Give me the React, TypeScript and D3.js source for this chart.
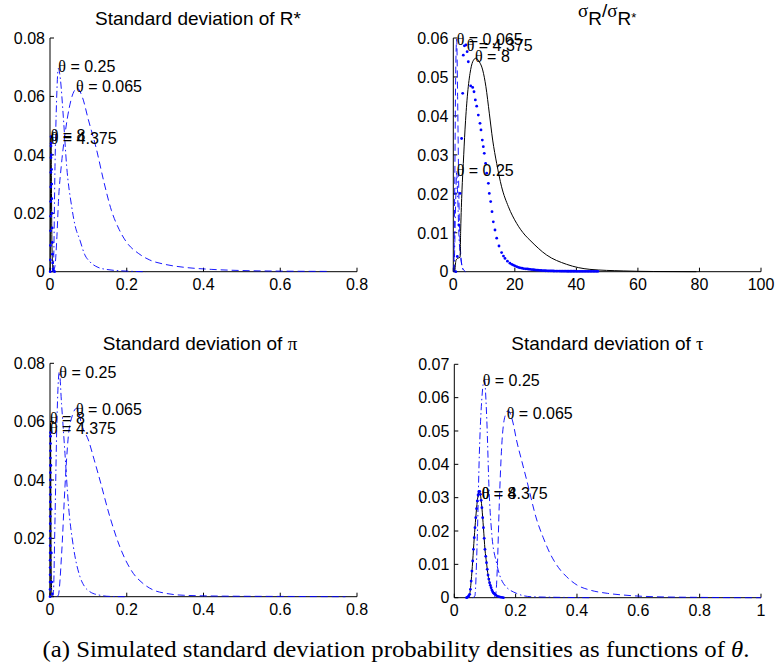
import React from 'react';
import * as d3 from 'd3';

type Pt = [number, number];

// ---------- Panel 1: Standard deviation of R* ----------
const rStar065: Pt[] = [[0.008,0],[0.013,0.002],[0.018,0.012],[0.022,0.024],[0.03,0.037],[0.04,0.048],[0.05,0.056],[0.06,0.061],[0.071,0.0628],[0.085,0.0595],[0.1,0.052],[0.12,0.0425],[0.14,0.031],[0.16,0.021],[0.18,0.0145],[0.2,0.01],[0.23,0.0063],[0.26,0.004],[0.3,0.0025],[0.35,0.0015],[0.42,0.0008],[0.5,0.0004],[0.6,0.0002],[0.73,0.0001]];
const rStar025: Pt[] = [[0.005,0],[0.009,0.002],[0.013,0.036],[0.017,0.058],[0.0217,0.0696],[0.027,0.066],[0.0347,0.053],[0.0435,0.036],[0.0565,0.0223],[0.065,0.016],[0.078,0.0108],[0.09,0.006],[0.104,0.0034],[0.125,0.0015],[0.146,0.0008],[0.2,0.0002],[0.25,0]];
const rStar4375: Pt[] = [[0.0005,0],[0.001,0.004],[0.0012,0.009],[0.0014,0.014],[0.0016,0.019],[0.0018,0.024],[0.002,0.029],[0.0022,0.034],[0.0024,0.039],[0.0026,0.043],[0.0028,0.0462],[0.0032,0.044],[0.0036,0.04],[0.004,0.035],[0.0044,0.03],[0.0048,0.025],[0.0052,0.02],[0.0056,0.015],[0.006,0.01],[0.0065,0.006],[0.007,0.003],[0.008,0.001],[0.01,0.0003],[0.012,0]];
const rStar8: Pt[] = [[0.0005,0],[0.0012,0.02],[0.0018,0.04],[0.0025,0.0465],[0.0032,0.04],[0.004,0.025],[0.005,0.01],[0.007,0.002],[0.01,0]];
const rStarLabels: Pt[] = [[0.0678,0.0636],[0.0216,0.0702],[0.0018,0.0458],[0.0018,0.0466]];

// ---------- Panel 2: sigma_R / sigma_R* ----------
const ratio065: Pt[] = [[0.2,0],[0.5,0.025],[0.8,0.052],[1.1,0.0597],[1.4,0.045],[1.8,0.02],[2.3,0.006],[3,0.001],[4,0]];
const ratio025: Pt[] = [[0.3,0],[0.6,0.012],[0.9,0.022],[1.1,0.0259],[1.4,0.02],[1.8,0.01],[2.5,0.003],[3.5,0]];
const ratio4375: Pt[] = [[0.8,0],[1.3,0.0039],[1.8,0.012],[2.2,0.0201],[2.7,0.0342],[3.05,0.0458],[3.25,0.0556],[3.6,0.058],[4.1,0.0582],[4.5,0.0565],[4.88,0.0539],[5.65,0.0477],[6.3,0.0473],[6.73,0.0462],[7.16,0.0441],[7.6,0.0425],[8.13,0.0402],[8.68,0.0381],[9.0,0.0364],[9.43,0.0338],[9.75,0.0321],[10.07,0.0304],[10.5,0.0278],[10.85,0.0253],[11.4,0.0227],[11.7,0.0201],[12.15,0.018],[12.58,0.0154],[13.0,0.0128],[13.55,0.0107],[14.1,0.0086],[14.85,0.0066],[15.7,0.0049],[16.3,0.004],[16.8,0.0034],[17.6,0.0027],[18.4,0.0022],[19.0,0.0019],[19.5,0.0017],[20.0,0.0015],[20.6,0.0013],[21.2,0.0011],[21.7,0.001],[22.3,0.0009],[22.8,0.0008],[23.4,0.00075],[24,0.0007],[24.5,0.00065],[25,0.0006],[25.5,0.00055],[26,0.0005],[26.5,0.00045],[27,0.0004],[27.5,0.0004],[28,0.00035],[28.5,0.00033],[29,0.0003],[29.5,0.00028],[30,0.00025],[30.5,0.00023],[31,0.0002],[31.5,0.0002],[32,0.0002],[32.5,0.00018],[33,0.00017],[33.5,0.00016],[34,0.00015],[34.5,0.00015],[35,0.00014],[35.5,0.00014],[36,0.00013],[36.5,0.00013],[37,0.00012],[37.5,0.00012],[38,0.00012],[38.5,0.00011],[39,0.00011],[39.5,0.00011],[40,0.0001],[40.5,0.0001],[41,0.0001],[41.5,0.0001],[42,0.0001],[42.5,0.0001],[43,0.0001],[43.5,0.0001],[44,0.0001],[44.5,0.0001],[45,0.0001],[45.5,0.0001],[46,0.0001],[46.5,0.0001],[47,0.0001]];
const ratio8: Pt[] = [[0.5,0],[0.9,0.003],[1.6,0.0035],[2.2,0.0037],[2.4,0.0107],[2.83,0.021],[3.25,0.0278],[3.8,0.0364],[4.55,0.0449],[5.43,0.0509],[6.3,0.0539],[7.28,0.0548],[8.45,0.0539],[9.55,0.0518],[10.6,0.0475],[11.7,0.0407],[12.8,0.0338],[14.1,0.0278],[15.7,0.0218],[17.9,0.0167],[20.6,0.0124],[23.3,0.0094],[24.9,0.0081],[30.3,0.0043],[36.8,0.0019],[44.4,0.0006],[55.2,0.0002],[65,0.00005],[79,0]];
const ratioLabels: Pt[] = [[1.1,0.0596],[1.1,0.0261],[4.35,0.0582],[7.05,0.0553]];

// ---------- Panel 3: Standard deviation of pi ----------
const pi065: Pt[] = [[0.018,0],[0.0217,0.0005],[0.0304,0.0149],[0.039,0.0377],[0.0477,0.0549],[0.058,0.062],[0.0696,0.0646],[0.085,0.058],[0.1,0.0537],[0.115,0.047],[0.13,0.04],[0.156,0.0274],[0.182,0.0171],[0.217,0.008],[0.24,0.0048],[0.269,0.0023],[0.3,0.0012],[0.347,0.0005],[0.45,0.0002],[0.6,0.0001],[0.77,0]];
const pi025: Pt[] = [[0.006,0],[0.0087,0.001],[0.013,0.0263],[0.018,0.06],[0.0243,0.0771],[0.03,0.0663],[0.039,0.0491],[0.0477,0.032],[0.061,0.0171],[0.078,0.0069],[0.09,0.0035],[0.104,0.0017],[0.13,0.0005],[0.156,0.0001],[0.2,0]];
const pi4375: Pt[] = [[0.0002,0],[0.00025,0.0025],[0.0003,0.005],[0.00035,0.0075],[0.0004,0.01],[0.00045,0.0125],[0.0005,0.015],[0.00055,0.0175],[0.0006,0.02],[0.00065,0.0225],[0.0007,0.025],[0.00075,0.0275],[0.0008,0.03],[0.00085,0.0325],[0.0009,0.035],[0.00095,0.0375],[0.001,0.04],[0.00105,0.0425],[0.0011,0.045],[0.00115,0.0475],[0.0012,0.05],[0.00125,0.0525],[0.0013,0.055],[0.0014,0.0562],[0.0022,0.045],[0.0028,0.03],[0.0035,0.015],[0.0045,0.005],[0.006,0.001]];
const pi8: Pt[] = [[0.0003,0],[0.0008,0.03],[0.0013,0.0596],[0.002,0.04],[0.003,0.01],[0.005,0]];
const piLabels: Pt[] = [[0.0677,0.0642],[0.0242,0.0771],[0.0,0.0577],[0.0,0.0611]];

// ---------- Panel 4: Standard deviation of tau ----------
const tau065: Pt[] = [[0.128,0],[0.135,0.001],[0.14,0.0083],[0.1467,0.0283],[0.1545,0.0453],[0.165,0.0543],[0.176,0.0561],[0.19,0.053],[0.2035,0.047],[0.22,0.041],[0.236,0.0353],[0.269,0.0233],[0.29,0.018],[0.312,0.0133],[0.34,0.009],[0.366,0.0063],[0.4,0.0038],[0.442,0.0023],[0.5,0.0013],[0.551,0.0008],[0.65,0.0003],[0.8,0.0001],[1.0,0]];
const tau025: Pt[] = [[0.06,0],[0.067,0.0005],[0.075,0.0183],[0.0816,0.043],[0.09,0.06],[0.098,0.0653],[0.106,0.0533],[0.113,0.0333],[0.122,0.0193],[0.138,0.0103],[0.16,0.0043],[0.203,0.0013],[0.25,0.0003],[0.35,0.0001],[0.45,0]];
const tau4375: Pt[] = [[0.04,0],[0.0425,0.0001],[0.045,0.0003],[0.0475,0.0006],[0.05,0.001],[0.0525,0.0025],[0.055,0.005],[0.0575,0.008],[0.06,0.011],[0.0625,0.0145],[0.065,0.018],[0.0675,0.021],[0.07,0.024],[0.0725,0.0267],[0.075,0.029],[0.0775,0.0308],[0.08,0.0318],[0.0825,0.0319],[0.085,0.031],[0.0875,0.0292],[0.09,0.027],[0.0925,0.024],[0.095,0.021],[0.0975,0.0178],[0.1,0.0145],[0.1025,0.0124],[0.105,0.0105],[0.1075,0.0085],[0.11,0.0068],[0.1125,0.0056],[0.115,0.0045],[0.1175,0.0037],[0.12,0.003],[0.1225,0.0023],[0.125,0.0018],[0.1275,0.0014],[0.13,0.0013],[0.1325,0.001],[0.135,0.0008],[0.14,0.0005],[0.145,0.0003],[0.15,0.0002],[0.155,0.0001],[0.16,0]];
const tau8: Pt[] = [[0.04,0],[0.045,0.0003],[0.05,0.001],[0.055,0.005],[0.06,0.011],[0.065,0.018],[0.07,0.024],[0.075,0.029],[0.08,0.0318],[0.0825,0.0319],[0.085,0.031],[0.09,0.027],[0.095,0.021],[0.1,0.0145],[0.105,0.0105],[0.11,0.0068],[0.115,0.0045],[0.12,0.003],[0.13,0.0013],[0.14,0.0005],[0.15,0.0002],[0.16,0]];
const tauLabels: Pt[] = [[0.171,0.0553],[0.0926,0.0651],[0.0893,0.0312],[0.0893,0.0314]];

// ---------- shared ----------
const thetaValues = ['0.065', '0.25', '4.375', '8'];
const styles = ['dash', 'dashdot', 'dot', 'solid'];
const xTicksSmall = [0, 0.2, 0.4, 0.6, 0.8];
const xTicksRatio = [0, 20, 40, 60, 80, 100];
const xTicksTau = [0, 0.2, 0.4, 0.6, 0.8, 1];
const yTicks08 = [0, 0.02, 0.04, 0.06, 0.08];
const yTicks06 = [0, 0.01, 0.02, 0.03, 0.04, 0.05, 0.06];
const yTicks07 = [0, 0.01, 0.02, 0.03, 0.04, 0.05, 0.06, 0.07];

const SANS = '"Liberation Sans", Arial, Helvetica, sans-serif';
const SERIF = '"Liberation Serif", "Times New Roman", serif';
const BLUE = '#0000ff';

type Box = { l: number; r: number; t: number; b: number };

function Panel(props: {
  box: Box; xDomain: number[]; yDomain: number[]; xTicks: number[]; yTicks: number[];
  series: Pt[][]; labels: Pt[]; title: React.ReactNode;
}) {
  const { box, xDomain, yDomain, xTicks, yTicks, series, labels, title } = props;
  const x = d3.scaleLinear().domain(xDomain).range([box.l, box.r]);
  const y = d3.scaleLinear().domain(yDomain).range([box.b, box.t]);
  const line = d3.line<Pt>().x(d => x(d[0])).y(d => y(d[1])).curve(d3.curveMonotoneX);
  const tk = 4;
  return (
    <g>
      {title}
      {/* axes */}
      <line x1={box.l} x2={box.r} y1={box.b} y2={box.b} stroke="#000" strokeWidth={1} />
      <line x1={box.l} x2={box.l} y1={box.t} y2={box.b} stroke="#000" strokeWidth={1} />
      {xTicks.map((v, i) => (
        <g key={'x' + i}>
          <line x1={x(v)} x2={x(v)} y1={box.b} y2={box.b - tk} stroke="#000" />
          <text x={x(v)} y={box.b + 18.5} textAnchor="middle" fontFamily={SANS} fontSize={16} fill="#000">{String(v)}</text>
        </g>
      ))}
      {yTicks.map((v, i) => (
        <g key={'y' + i}>
          <line x1={box.l} x2={box.l + tk} y1={y(v)} y2={y(v)} stroke="#000" />
          <text x={box.l - 5} y={y(v)} dy="0.36em" textAnchor="end" fontFamily={SANS} fontSize={16} fill="#000">{String(v)}</text>
        </g>
      ))}
      {/* curves: dashed, dash-dot, solid, then dots */}
      {series.map((s, i) => {
        const st = styles[i];
        if (st === 'dot') return null;
        return (
          <path key={i} d={line(s) || ''} fill="none"
            stroke={st === 'solid' ? '#000' : BLUE}
            strokeWidth={st === 'solid' ? 1 : 0.9}
            strokeDasharray={st === 'dash' ? '7 4' : st === 'dashdot' ? '7 3 1.5 3' : undefined} />
        );
      })}
      {series.map((s, i) => styles[i] === 'dot' ? (
        <g key={'d' + i}>
          {s.map((p, j) => <circle key={j} cx={x(p[0])} cy={y(p[1])} r={1.4} fill={BLUE} />)}
        </g>
      ) : null)}
      {labels.map((p, i) => (
        <text key={'l' + i} x={x(p[0])} y={y(p[1])} dy="0.36em" fontFamily={SANS} fontSize={16} fill="#000">
          <tspan fontFamily={SERIF}>θ</tspan>{' = ' + thetaValues[i]}
        </text>
      ))}
    </g>
  );
}

export default function App() {
  return (
    <svg width={777} height={665} style={{ position: 'absolute', left: 0, top: 0, background: '#fff' }}>
      <rect x={0} y={0} width={777} height={665} fill="#fff" />
      <Panel box={{ l: 50, r: 357, t: 38, b: 271.7 }} xDomain={[0, 0.8]} yDomain={[0, 0.08]}
        xTicks={xTicksSmall} yTicks={yTicks08} series={[rStar065, rStar025, rStar4375, rStar8]} labels={rStarLabels}
        title={<text x={198} y={25} textAnchor="middle" fontFamily={SANS} fontSize={19}>Standard deviation of R*</text>} />
      <Panel box={{ l: 453.3, r: 761, t: 38, b: 271.7 }} xDomain={[0, 100]} yDomain={[0, 0.06]}
        xTicks={xTicksRatio} yTicks={yTicks06} series={[ratio065, ratio025, ratio4375, ratio8]} labels={ratioLabels}
        title={<text x={578} y={17} fontFamily={SANS} fontSize={19}>
          <tspan fontFamily={SERIF}>σ</tspan><tspan dy={8}>R</tspan><tspan dy={-8}>/</tspan><tspan fontFamily={SERIF}>σ</tspan><tspan dy={8}>R</tspan><tspan dy={-3} fontSize={13}>*</tspan>
        </text>} />
      <Panel box={{ l: 50, r: 357, t: 363.3, b: 596.7 }} xDomain={[0, 0.8]} yDomain={[0, 0.08]}
        xTicks={xTicksSmall} yTicks={yTicks08} series={[pi065, pi025, pi4375, pi8]} labels={piLabels}
        title={<text x={200} y={350} textAnchor="middle" fontFamily={SANS} fontSize={19}>Standard deviation of <tspan fontFamily={SERIF}>π</tspan></text>} />
      <Panel box={{ l: 454.3, r: 761, t: 364.3, b: 597.7 }} xDomain={[0, 1]} yDomain={[0, 0.07]}
        xTicks={xTicksTau} yTicks={yTicks07} series={[tau065, tau025, tau4375, tau8]} labels={tauLabels}
        title={<text x={607.5} y={350} textAnchor="middle" fontFamily={SANS} fontSize={19}>Standard deviation of <tspan fontFamily={SERIF}>τ</tspan></text>} />
      <text x={42.5} y={657} fontFamily={SERIF} fontSize={24} textLength={707} lengthAdjust="spacingAndGlyphs" fill="#000">
        (a) Simulated standard deviation probability densities as functions of <tspan fontStyle="italic">θ</tspan>.
      </text>
    </svg>
  );
}
